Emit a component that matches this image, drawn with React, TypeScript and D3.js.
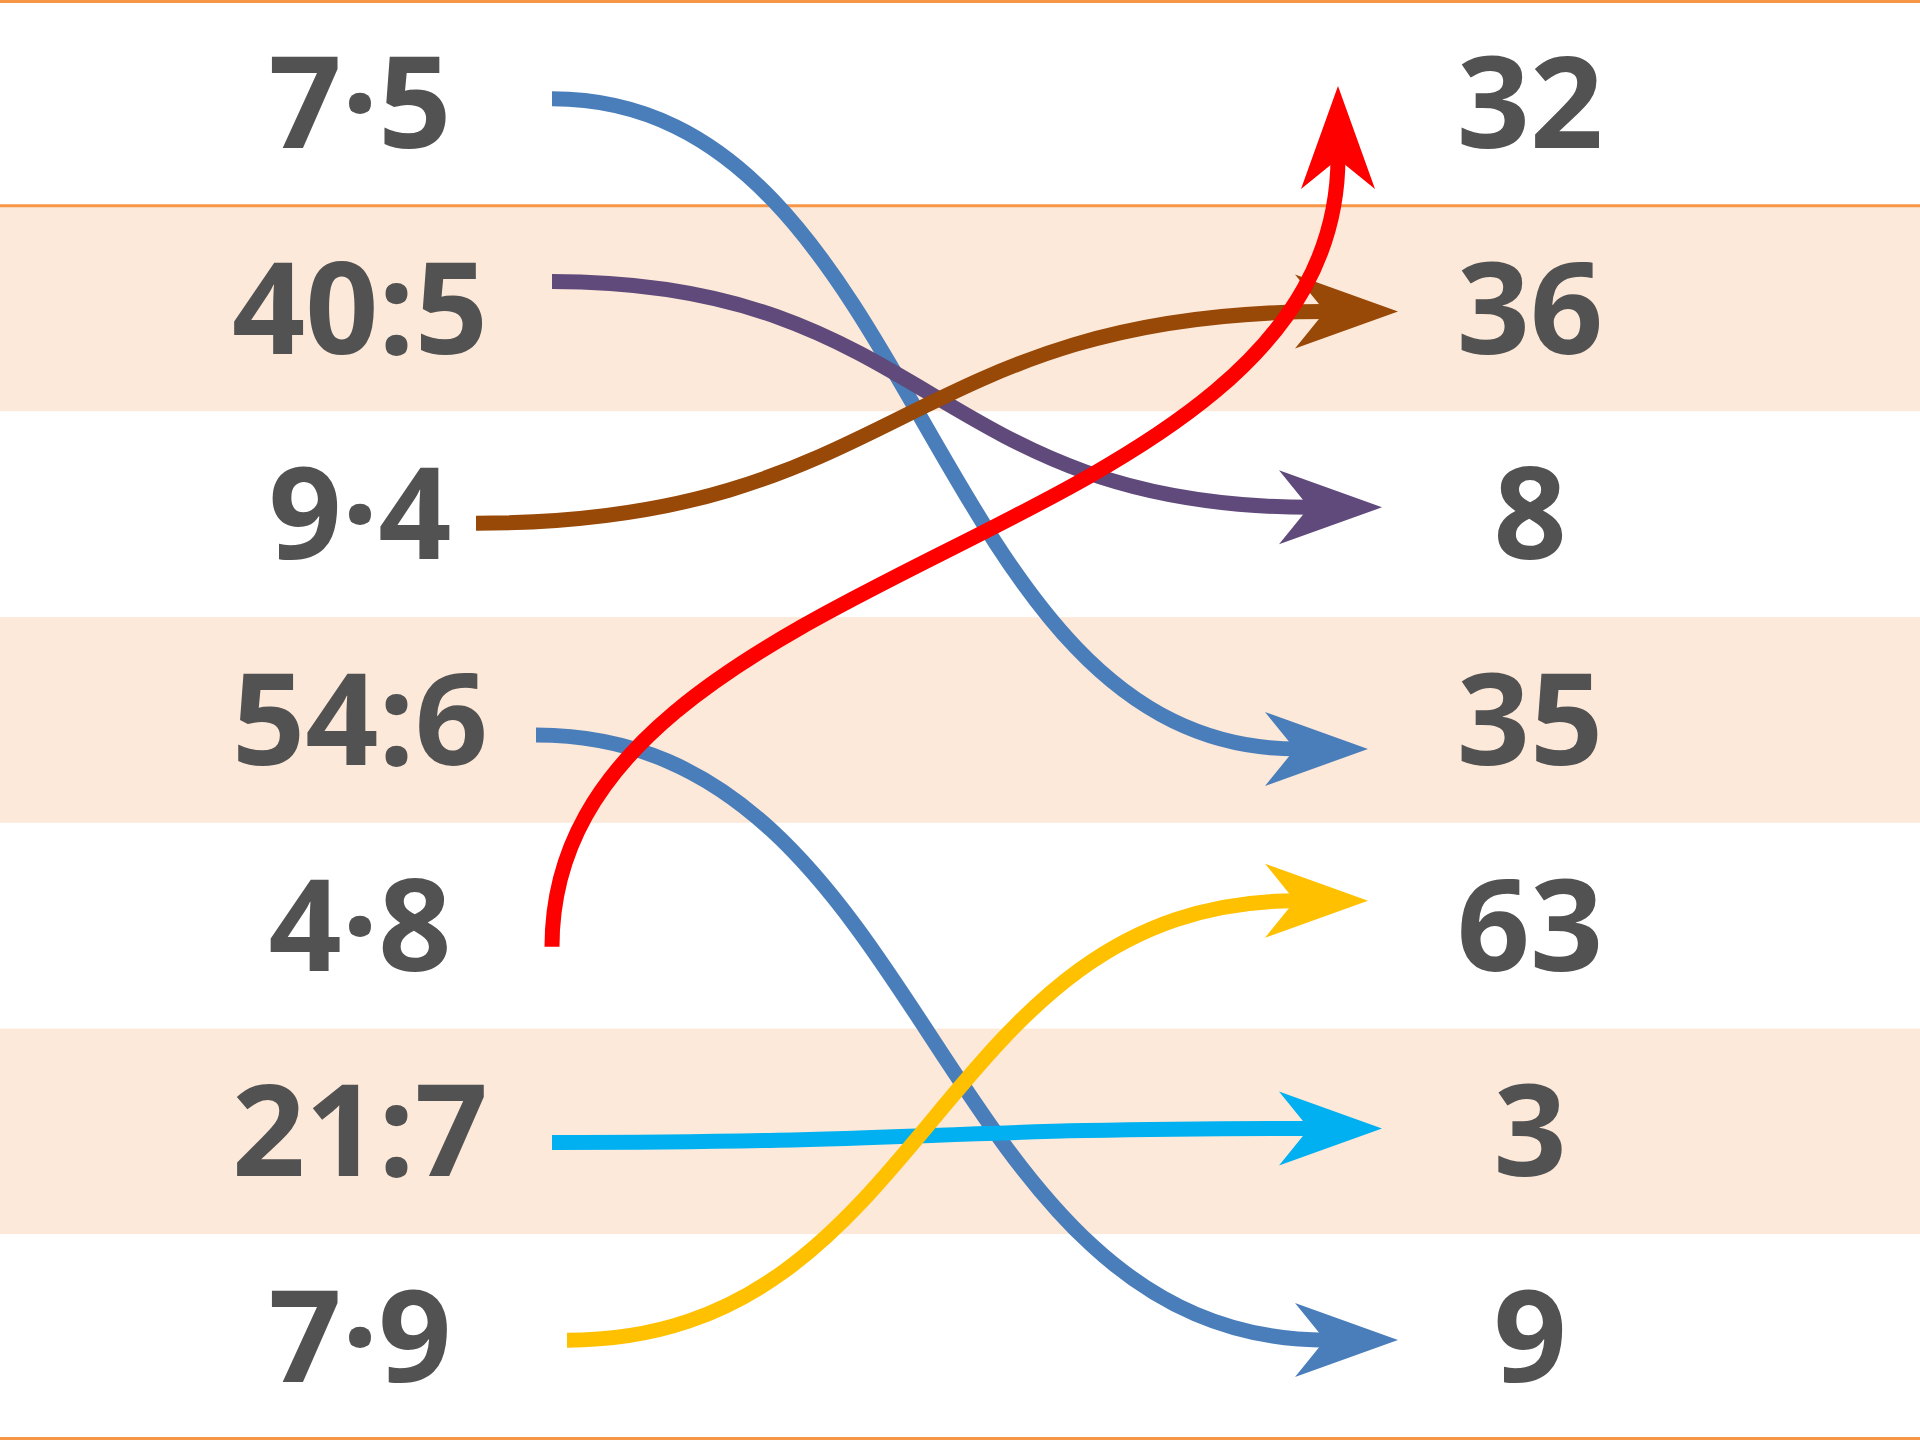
import React, { useEffect } from "react";
import * as d3 from "d3";

// ---- data ----
const questions = ["7·5", "40:5", "9·4", "54:6", "4·8", "21:7", "7·9"];
const answers = ["32", "36", "8", "35", "63", "3", "9"];
// connector: from question row -> answer row
const linkFrom = [0, 1, 2, 3, 4, 5, 6];
const linkTo = [3, 2, 1, 6, 0, 5, 4];
const linkColors = ["#4A7EBB", "#604A7B", "#984807", "#4A7EBB", "#FF0000", "#00B0F0", "#FFC000"];
const linkVertical = [false, false, false, false, true, false, false];

// ---- layout (connector anchor nudges, px, relative to row centres) ----
const startNudgeX = [0, 0, -76, -16, 0, 0, 15];
const startNudgeY = [-4, -27, 9, 15, 21, 11, 3];
const tipNudgeX = [-14, 0, 16, 16, -44, 0, -14];
const tipNudgeY = [29, -7, 3, 3, -17, -3, -25];

const W = 1920;
const H = 1440;
const LEFT_X = 360;
const RIGHT_X = 1530;
const START_X = 552;
const TIP_X = 1382;
const ARROW_LEN = 103;
const ARROW_NOTCH = 73;
const ARROW_HALF = 37;
const STROKE = 15;

export default function App() {
  useEffect(() => {
    document.body.style.margin = "0";
  }, []);

  const y = d3.scaleBand<number>().domain(d3.range(questions.length)).range([0, H]);
  const cy = (i: number) => (y(i) as number) + y.bandwidth() / 2;

  const hLink = d3.linkHorizontal<any, [number, number]>().source((d: any) => d.source).target((d: any) => d.target);
  const vLink = d3.linkVertical<any, [number, number]>().source((d: any) => d.source).target((d: any) => d.target);

  const arrowPts = (tx: number, ty: number, angleDeg: number) => {
    const a = (angleDeg * Math.PI) / 180;
    const pts: [number, number][] = [
      [0, 0],
      [-ARROW_LEN, -ARROW_HALF],
      [-ARROW_NOTCH, 0],
      [-ARROW_LEN, ARROW_HALF],
    ];
    return pts
      .map(([px, py]) => {
        const rx = px * Math.cos(a) - py * Math.sin(a) + tx;
        const ry = px * Math.sin(a) + py * Math.cos(a) + ty;
        return `${rx.toFixed(1)},${ry.toFixed(1)}`;
      })
      .join(" ");
  };

  const links = linkFrom.map((f, i) => {
    const t = linkTo[i];
    const sx = START_X + startNudgeX[i];
    const sy = cy(f) + startNudgeY[i];
    const tx = TIP_X + tipNudgeX[i];
    const ty = cy(t) + tipNudgeY[i];
    if (linkVertical[i]) {
      const d = vLink({ source: [sx, sy], target: [tx, ty + ARROW_NOTCH - 2] }) as string;
      return { d, arrow: arrowPts(tx, ty, -90), color: linkColors[i] };
    }
    const d = hLink({ source: [sx, sy], target: [tx - ARROW_NOTCH + 2, ty] }) as string;
    return { d, arrow: arrowPts(tx, ty, 0), color: linkColors[i] };
  });

  const textStyle: React.CSSProperties = {
    fontFamily: "'Open Sans', 'Noto Sans', sans-serif",
    fontWeight: 700,
    fontSize: 128,
  };

  return (
    <svg width={W} height={H} viewBox={`0 0 ${W} ${H}`} style={{ display: "block", background: "#FFFFFF" }}>
      {questions.map((_, i) => (
        <rect key={"band" + i} x={0} y={y(i)} width={W} height={y.bandwidth()} fill={i % 2 === 1 ? "#FDE9D9" : "#FFFFFF"} />
      ))}
      <line x1={0} x2={W} y1={1.5} y2={1.5} stroke="#F79646" strokeWidth={3} />
      <line x1={0} x2={W} y1={y(1) as number} y2={y(1) as number} stroke="#F79646" strokeWidth={3} />
      <line x1={0} x2={W} y1={H - 1.5} y2={H - 1.5} stroke="#F79646" strokeWidth={3} />

      {questions.map((q, i) => (
        <text key={"q" + i} x={LEFT_X} y={cy(i) + 45} textAnchor="middle" style={textStyle} fill="#525252">
          {q}
        </text>
      ))}
      {answers.map((a, i) => (
        <text key={"a" + i} x={RIGHT_X} y={cy(i) + 45} textAnchor="middle" style={textStyle} fill="#525252">
          {a}
        </text>
      ))}

      {links.map((l, i) => (
        <g key={"l" + i}>
          <path d={l.d} fill="none" stroke={l.color} strokeWidth={STROKE} strokeLinecap="butt" />
          <polygon points={l.arrow} fill={l.color} />
        </g>
      ))}
    </svg>
  );
}
